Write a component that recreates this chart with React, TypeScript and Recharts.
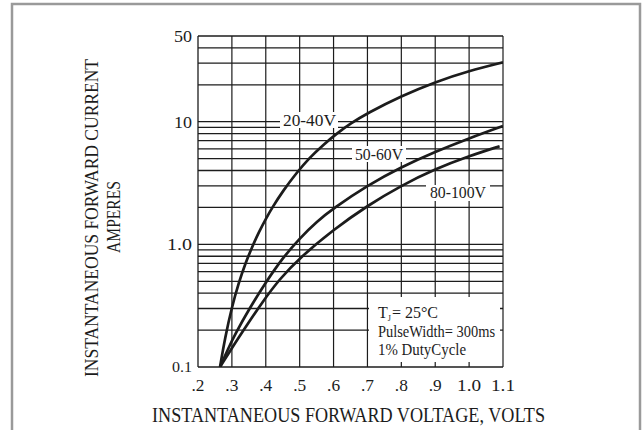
import React from 'react';
import { LineChart, Line, XAxis, YAxis, ReferenceLine } from 'recharts';

// forward voltage (V) -> instantaneous current (A)
const series2040 = [
  { v: 0.265, i: 0.1 }, { v: 0.28, i: 0.174 }, { v: 0.3, i: 0.309 }, { v: 0.32, i: 0.485 },
  { v: 0.34, i: 0.701 }, { v: 0.36, i: 0.959 }, { v: 0.38, i: 1.265 }, { v: 0.4, i: 1.614 },
  { v: 0.42, i: 2.014 }, { v: 0.45, i: 2.71 }, { v: 0.49, i: 3.81 }, { v: 0.53, i: 5.12 },
  { v: 0.57, i: 6.5 }, { v: 0.61, i: 8.04 }, { v: 0.65, i: 9.66 }, { v: 0.7, i: 11.75 },
  { v: 0.8, i: 16.2 }, { v: 0.9, i: 21.1 }, { v: 1.0, i: 26.0 }, { v: 1.1, i: 30.5 },
];
const series5060 = [
  { v: 0.265, i: 0.1 }, { v: 0.29, i: 0.143 }, { v: 0.31, i: 0.186 }, { v: 0.35, i: 0.295 },
  { v: 0.4, i: 0.49 }, { v: 0.45, i: 0.776 }, { v: 0.5, i: 1.12 }, { v: 0.55, i: 1.53 },
  { v: 0.6, i: 1.97 }, { v: 0.7, i: 3.02 }, { v: 0.8, i: 4.27 }, { v: 0.9, i: 5.69 },
  { v: 1.0, i: 7.33 }, { v: 1.1, i: 9.23 },
];
const series80100 = [
  { v: 0.265, i: 0.1 }, { v: 0.3, i: 0.143 }, { v: 0.34, i: 0.211 }, { v: 0.39, i: 0.339 },
  { v: 0.44, i: 0.519 }, { v: 0.5, i: 0.776 }, { v: 0.6, i: 1.32 }, { v: 0.7, i: 2.07 },
  { v: 0.8, i: 3.02 }, { v: 0.9, i: 4.12 }, { v: 1.0, i: 5.25 }, { v: 1.09, i: 6.31 },
];

const xTicks = [0.2, 0.3, 0.4, 0.5, 0.6, 0.7, 0.8, 0.9, 1.0, 1.1];
const xTickLabels = ['.2', '.3', '.4', '.5', '.6', '.7', '.8', '.9', '1.0', '1.1'];
const yTicks = [0.1, 1, 10, 50];
const yTickLabels = ['0.1', '1.0', '10', '50'];
const yGrid = [
  0.2, 0.3, 0.4, 0.5, 0.6, 0.7, 0.8, 0.9,
  1, 2, 3, 4, 5, 6, 7, 8, 9,
  10, 20, 30, 40, 50,
];
const xGrid = [0.3, 0.4, 0.5, 0.6, 0.7, 0.8, 0.9, 1.0, 1.1];

const FONT = '"Liberation Serif", "DejaVu Serif", serif';
const INK = '#1c1c1c';

const XTick = ({ x, y, payload }: any) => {
  const idx = xTicks.findIndex((t) => Math.abs(t - payload.value) < 1e-6);
  const label = xTickLabels[idx];
  return (
    <text x={x} y={y} dy="0.71em" textAnchor="middle" fontSize={17} fill={INK} fontFamily={FONT}
      textLength={label.length === 2 ? 13 : 24} lengthAdjust="spacingAndGlyphs">
      {label}
    </text>
  );
};

const YTick = ({ x, y, payload }: any) => {
  const idx = yTicks.findIndex((t) => Math.abs(t - payload.value) < 1e-6);
  const label = yTickLabels[idx];
  return (
    <text x={x} y={y} dy="0.355em" textAnchor="end" fontSize={idx === 0 ? 15 : 17} fill={INK} fontFamily={FONT}
      textLength={label.length === 2 ? 18 : idx === 0 ? 20 : 25} lengthAdjust="spacingAndGlyphs">
      {label}
    </text>
  );
};

export default function App() {
  return (
    <div style={{ position: 'absolute', left: 0, top: 0, width: 642, height: 430, background: '#fff', fontFamily: FONT }}>
      <LineChart width={642} height={430} margin={{ top: 36, right: 139, bottom: 33, left: 138 }}>
        <XAxis
          type="number"
          dataKey="v"
          domain={[0.2, 1.1]}
          ticks={xTicks}
          tick={<XTick />}
          tickLine={false}
          tickSize={0}
          tickMargin={12}
          axisLine={{ stroke: INK, strokeWidth: 1.3 }}
          height={30}
          allowDataOverflow
        />
        <YAxis
          type="number"
          scale="log"
          domain={[0.1, 50]}
          ticks={yTicks}
          tick={<YTick />}
          tickLine={false}
          tickSize={0}
          tickMargin={6}
          axisLine={{ stroke: INK, strokeWidth: 1.3 }}
          width={60}
          allowDataOverflow
        />
        {yGrid.map((g) => (
          <ReferenceLine key={`h${g}`} y={g} stroke={INK} strokeWidth={1.3} />
        ))}
        {xGrid.map((g) => (
          <ReferenceLine key={`v${g}`} x={g} stroke={INK} strokeWidth={1.2} />
        ))}
        <Line data={series2040} dataKey="i" type="basis" stroke={INK} strokeWidth={2.7} dot={false} isAnimationActive={false} />
        <Line data={series5060} dataKey="i" type="basis" stroke={INK} strokeWidth={2.7} dot={false} isAnimationActive={false} />
        <Line data={series80100} dataKey="i" type="basis" stroke={INK} strokeWidth={2.7} dot={false} isAnimationActive={false} />
      </LineChart>

      <svg width={642} height={430} style={{ position: 'absolute', left: 0, top: 0, pointerEvents: 'none' }}>
        {/* page frame */}
        <path d="M12 430 V4 H640 V430" fill="none" stroke="#9a9a9a" strokeWidth={2.5} />

        {/* curve labels */}
        <rect x={280} y={112} width={58} height={16} fill="#fff" />
        <text x={283} y={126} fontSize={17} fill={INK} textLength={53} lengthAdjust="spacingAndGlyphs">20-40V</text>
        <rect x={352} y={146} width={54} height={16} fill="#fff" />
        <text x={355} y={160} fontSize={17} fill={INK} textLength={48} lengthAdjust="spacingAndGlyphs">50-60V</text>
        <rect x={426} y={185} width={64} height={16} fill="#fff" />
        <text x={430} y={198} fontSize={17} fill={INK} textLength={56} lengthAdjust="spacingAndGlyphs">80-100V</text>

        {/* test conditions */}
        <rect x={369} y={297} width={131} height={65} fill="#fff" />
        <text x={378} y={318} fontSize={16} fill={INK}>
          T<tspan fontSize={8} dy={3}>J</tspan><tspan dy={-3} dx={1}>= 25°C</tspan>
        </text>
        <text x={378} y={337} fontSize={16} fill={INK} textLength={117} lengthAdjust="spacingAndGlyphs">PulseWidth= 300ms</text>
        <text x={378} y={355} fontSize={16} fill={INK} textLength={88} lengthAdjust="spacingAndGlyphs">1% DutyCycle</text>

        {/* axis titles */}
        <text x={152} y={422} fontSize={21} fill={INK} textLength={393} lengthAdjust="spacingAndGlyphs">
          INSTANTANEOUS  FORWARD  VOLTAGE, VOLTS
        </text>
        <text transform="translate(98 377) rotate(-90)" x={0} y={0} fontSize={18} fill={INK} textLength={318} lengthAdjust="spacingAndGlyphs">
          INSTANTANEOUS  FORWARD  CURRENT
        </text>
        <text transform="translate(120 253) rotate(-90)" x={0} y={0} fontSize={18} fill={INK} textLength={72} lengthAdjust="spacingAndGlyphs">
          AMPERES
        </text>
      </svg>
    </div>
  );
}
